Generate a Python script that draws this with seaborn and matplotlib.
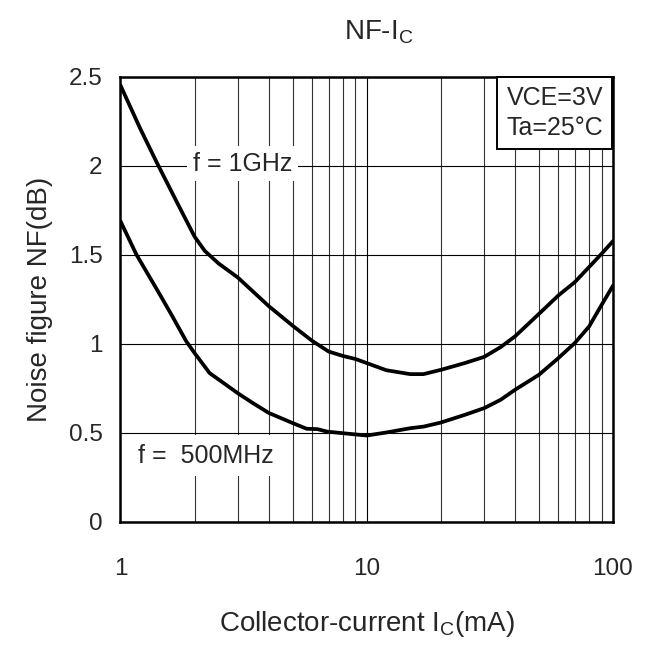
import numpy as np
import pandas as pd
import seaborn as sns
import matplotlib
matplotlib.use("Agg")
import matplotlib.pyplot as plt
from matplotlib.ticker import LogLocator, FixedLocator, NullFormatter, FixedFormatter
from matplotlib.transforms import offset_copy

# values
ic_1ghz = [1, 1.2, 1.4, 1.7, 2, 2.2, 2.5, 3, 4, 5, 6, 7, 8, 9, 10, 12, 15, 17, 20, 25, 30, 35, 40, 50, 60, 70, 80, 90, 100]
nf_1ghz = [2.45, 2.21, 2.02, 1.79, 1.60, 1.52, 1.45, 1.37, 1.21, 1.10, 1.015, 0.955, 0.93, 0.913, 0.89, 0.85, 0.828, 0.828, 0.852,
           0.89, 0.925, 0.98, 1.04, 1.166, 1.27, 1.345, 1.43, 1.505, 1.575]

ic_500mhz = [1, 1.16, 1.445, 1.61, 1.85, 2, 2.3, 3, 3.45, 4, 4.5, 5, 5.7, 6.3, 6.9, 8, 10, 12, 15, 17, 20, 25, 30, 35, 40, 50, 60, 70, 80, 90, 100]
nf_500mhz = [1.687, 1.50, 1.275, 1.162, 1.012, 0.946, 0.834, 0.72, 0.665, 0.61, 0.58, 0.553, 0.521, 0.519, 0.505, 0.496, 0.483, 0.50,
             0.524, 0.533, 0.556, 0.599, 0.637, 0.684, 0.74, 0.824, 0.918, 1.003, 1.096, 1.218, 1.325]

y_ticks = [0, 0.5, 1, 1.5, 2, 2.5]
y_ticklabels = ["0", "0.5", "1", "1.5", "2", "2.5"]
x_ticks = [1, 10, 100]
x_ticklabels = ["1", "10", "100"]

df = pd.concat([
    pd.DataFrame({"ic": ic_1ghz, "nf": nf_1ghz, "freq": "f = 1GHz"}),
    pd.DataFrame({"ic": ic_500mhz, "nf": nf_500mhz, "freq": "f = 500MHz"}),
])

sns.set_style("white")
plt.rcParams['font.family'] = ['Liberation Sans', 'DejaVu Sans']
plt.rcParams['mathtext.fontset'] = 'custom'
plt.rcParams['mathtext.rm'] = 'Liberation Sans'

fig = plt.figure(figsize=(6.54, 6.46), dpi=100)
ax = fig.add_axes([120.5 / 654, 1 - 521.5 / 646, 492.5 / 654, 445 / 646])

sns.lineplot(data=df, x="ic", y="nf", hue="freq", palette=["black", "black"],
             estimator=None, linewidth=2.7, legend=False, ax=ax)

ax.set_xscale("log")
ax.set_xlim(1, 100)
ax.set_ylim(0, 2.5)

ax.xaxis.set_major_locator(FixedLocator(x_ticks))
ax.xaxis.set_major_formatter(FixedFormatter(x_ticklabels))
ax.xaxis.set_minor_locator(LogLocator(base=10, subs=np.arange(2, 10)))
ax.xaxis.set_minor_formatter(NullFormatter())
ax.yaxis.set_major_locator(FixedLocator(y_ticks))
ax.yaxis.set_major_formatter(FixedFormatter(y_ticklabels))

ax.grid(True, which="major", color="black", linewidth=0.8)
ax.grid(True, which="minor", axis="x", color="#333333", linewidth=0.8)
ax.set_axisbelow(True)

ax.tick_params(axis="both", which="both", length=0, labelsize=17.5)
ax.tick_params(axis="x", pad=26)
ax.tick_params(axis="y", pad=13)

for s in ax.spines.values():
    s.set_color("black")
    s.set_linewidth(1.8)

ax.set_xlabel("Collector-current I$_\\mathregular{C}$(mA)", fontsize=20, labelpad=21)
ax.set_ylabel("Noise figure NF(dB)", fontsize=20, labelpad=11)
ax.set_title("NF-I$_\\mathregular{C}$", fontsize=20, pad=27, x=0.525)

ax.text(3.13, 2.01, "f = 1GHz", fontsize=18, ha="center", va="center",
        bbox=dict(facecolor="white", edgecolor="none", pad=4))
ax.text(2.22, 0.37, "f =  500MHz", fontsize=18, ha="center", va="center",
        bbox=dict(facecolor="white", edgecolor="none", pad=6))

pad_pt = 0.36 * 18
tr = offset_copy(ax.transAxes, fig=fig, x=-pad_pt - 0.6, y=-pad_pt - 0.6, units="points")
ax.text(1, 1, "VCE=3V\nTa=25°C", transform=tr, fontsize=18, ha="right", va="top",
        linespacing=1.3, multialignment="left",
        bbox=dict(boxstyle="square,pad=0.36", facecolor="white", edgecolor="black", linewidth=1.4))

fig.savefig("out.png", dpi=100)
